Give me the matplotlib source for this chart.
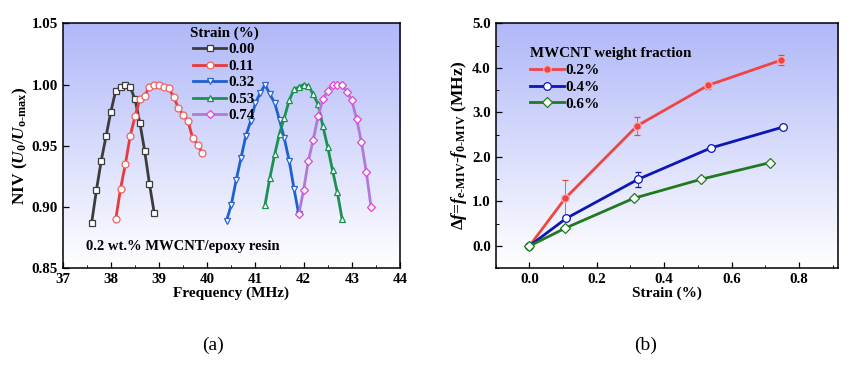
import numpy as np
import matplotlib.pyplot as plt
from matplotlib.lines import Line2D
from matplotlib.ticker import MultipleLocator, FormatStrFormatter

plt.rcParams['font.family'] = ['Liberation Serif', 'DejaVu Serif']
plt.rcParams['font.weight'] = 'bold'
plt.rcParams['mathtext.fontset'] = 'custom'
plt.rcParams['mathtext.rm'] = 'Liberation Serif:bold'
plt.rcParams['mathtext.it'] = 'Liberation Serif:italic:bold'
plt.rcParams['mathtext.bf'] = 'Liberation Serif:bold'

# --- (a) normalised voltage vs frequency ---
f_000 = np.round(np.arange(37.6, 38.95, 0.1), 1)
v_000 = [0.887, 0.914, 0.938, 0.958, 0.978, 0.995, 0.998, 1.000, 0.998, 0.988,
         0.969, 0.946, 0.919, 0.895]
f_011 = np.round(np.arange(38.1, 39.95, 0.1), 1)
v_011 = [0.890, 0.915, 0.935, 0.958, 0.974, 0.988, 0.991, 0.998, 1.000, 1.000,
         0.998, 0.997, 0.990, 0.981, 0.975, 0.970, 0.956, 0.951, 0.944]
f_032 = np.round(np.arange(40.4, 41.95, 0.1), 1)
v_032 = [0.889, 0.902, 0.922, 0.940, 0.958, 0.970, 0.985, 0.993, 1.000, 0.992,
         0.985, 0.971, 0.956, 0.938, 0.915, 0.894]
f_053 = np.round(np.arange(41.2, 42.85, 0.1), 1)
v_053 = [0.902, 0.924, 0.943, 0.960, 0.973, 0.987, 0.996, 0.998, 1.000, 0.999,
         0.992, 0.984, 0.966, 0.949, 0.930, 0.912, 0.890]
f_074 = np.round(np.arange(41.9, 43.45, 0.1), 1)
v_074 = [0.894, 0.914, 0.938, 0.955, 0.974, 0.988, 0.995, 1.000, 1.000, 1.000,
         0.994, 0.987, 0.972, 0.953, 0.929, 0.900]

# --- (b) frequency shift vs strain ---
s_02 = [0.0, 0.106, 0.320, 0.531, 0.746]
d_02 = [0.0, 1.07, 2.70, 3.61, 4.17]
e_02 = [0.0, 0.41, 0.20, 0.08, 0.11]
s_04 = [0.0, 0.109, 0.323, 0.538, 0.752]
d_04 = [0.0, 0.62, 1.50, 2.20, 2.67]
e_04 = [0.0, 0.04, 0.17, 0.03, 0.02]
s_06 = [0.0, 0.106, 0.309, 0.510, 0.713]
d_06 = [0.0, 0.40, 1.07, 1.50, 1.87]
e_06 = [0.0, 0.04, 0.03, 0.04, 0.03]

fig = plt.figure(figsize=(8.57, 3.71), dpi=100)
ax1 = fig.add_axes([0.0732, 0.2768, 0.3935, 0.6604])
ax2 = fig.add_axes([0.5784, 0.2768, 0.3991, 0.6604])

# light blue -> white background gradient
grad = np.linspace(1, 0, 256).reshape(-1, 1)
top = np.array([176, 184, 248]) / 255.0
img = np.ones((256, 1, 3)) * (1 - grad[..., None]) + top * grad[..., None]
for ax in (ax1, ax2):
    ax.imshow(img, extent=[0, 1, 0, 1], transform=ax.transAxes, aspect='auto', zorder=0)

series_a = [
    (f_000, v_000, '0.00', '#3c3c3c', '#3c3c3c', 's'),
    (f_011, v_011, '0.11', '#e8393a', '#f06060', 'o'),
    (f_032, v_032, '0.32', '#1f5fcf', '#2a66d0', 'v'),
    (f_053, v_053, '0.53', '#199150', '#199150', '^'),
    (f_074, v_074, '0.74', '#b07ad6', '#dd44d8', 'D'),
]
for fx, vy, lab, lc, mc, mk in series_a:
    ms = 4.2 if mk == 'D' else 5
    ax1.plot(fx, vy, color=lc, lw=2, marker=mk, ms=ms, mfc='white', mec=mc,
             mew=0.9, label=lab, zorder=3)

ax1.set_xlim(37, 44)
ax1.set_ylim(0.85, 1.05)
ax1.xaxis.set_major_locator(MultipleLocator(1))
ax1.xaxis.set_minor_locator(MultipleLocator(0.5))
ax1.yaxis.set_major_locator(MultipleLocator(0.05))
ax1.yaxis.set_major_formatter(FormatStrFormatter('%.2f'))
ax1.set_xlabel('Frequency (MHz)', fontsize=11, fontweight='bold', labelpad=0)
ax1.set_ylabel(r'NIV ($U_0$/$U_{\mathrm{o\text{-}max}}$)', fontsize=12.5, fontweight='bold', labelpad=1)
ax1.text(0.07, 0.075, '0.2 wt.% MWCNT/epoxy resin', transform=ax1.transAxes,
         fontsize=10.5, fontweight='bold')
leg1 = ax1.legend(title='Strain (%)', loc='upper left', bbox_to_anchor=(0.345, 1.03),
                  frameon=False, fontsize=10.8, title_fontsize=10.8, handlelength=2.2,
                  handletextpad=0.1, labelspacing=0.2, borderaxespad=0.3)
leg1.get_title().set_fontweight('bold')

series_b = [
    (s_02, d_02, e_02, '0.2%', '#f04444', 'o', '#f04444'),
    (s_04, d_04, e_04, '0.4%', '#0b16b5', 'o', 'white'),
    (s_06, d_06, e_06, '0.6%', '#1f7a1f', 'D', 'white'),
]
handles = []
for sx, dy, ey, lab, c, mk, fc in series_b:
    ms = 5.5 if mk == 'o' else 5
    mec = c if fc == 'white' else '#ffb0b0'
    ax2.errorbar(sx, dy, yerr=ey, color=c, lw=2, marker=mk, ms=ms,
                 mfc=fc, mec=mec, mew=0.9,
                 ecolor=c, elinewidth=0.6, capsize=2, capthick=0.6, zorder=3)
    handles.append(Line2D([], [], color=c, lw=2, marker=mk, ms=ms, mfc=fc,
                          mec=mec, mew=0.9, label=lab))

ax2.set_xlim(-0.1, 0.915)
ax2.set_ylim(-0.5, 5.0)
ax2.xaxis.set_major_locator(MultipleLocator(0.2))
ax2.xaxis.set_minor_locator(MultipleLocator(0.1))
ax2.yaxis.set_major_locator(MultipleLocator(1.0))
ax2.yaxis.set_minor_locator(MultipleLocator(0.5))
ax2.xaxis.set_major_formatter(FormatStrFormatter('%.1f'))
ax2.yaxis.set_major_formatter(FormatStrFormatter('%.1f'))
ax2.set_xlabel('Strain (%)', fontsize=11, fontweight='bold', labelpad=0)
ax2.set_ylabel(r'$\Delta f$=$f_{\mathrm{e\text{-}MIV}}$-$f_{\mathrm{0\text{-}MIV}}$ (MHz)',
               fontsize=12.5, fontweight='bold', labelpad=2)
leg2 = ax2.legend(handles=handles, title='MWCNT weight fraction', loc='upper left',
                  bbox_to_anchor=(0.07, 0.945), frameon=False, fontsize=11,
                  title_fontsize=10.8, handlelength=2.2, handletextpad=0.1,
                  labelspacing=0.2, borderaxespad=0.3)
leg2.get_title().set_fontweight('bold')
leg2._legend_box.align = 'left'

for ax in (ax1, ax2):
    ax.tick_params(which='both', direction='in', labelsize=10.8)
    ax.tick_params(which='major', length=4, width=0.9)
    ax.tick_params(which='minor', length=2, width=0.7)
    for lb in ax.get_xticklabels() + ax.get_yticklabels():
        lb.set_fontweight('bold')
    for sp in ax.spines.values():
        sp.set_linewidth(1.1)

fig.text(0.248, 0.058, '(a)', fontsize=14, fontweight='normal', ha='center')
fig.text(0.753, 0.058, '(b)', fontsize=14, fontweight='normal', ha='center')

fig.savefig('out.png', dpi=100)
